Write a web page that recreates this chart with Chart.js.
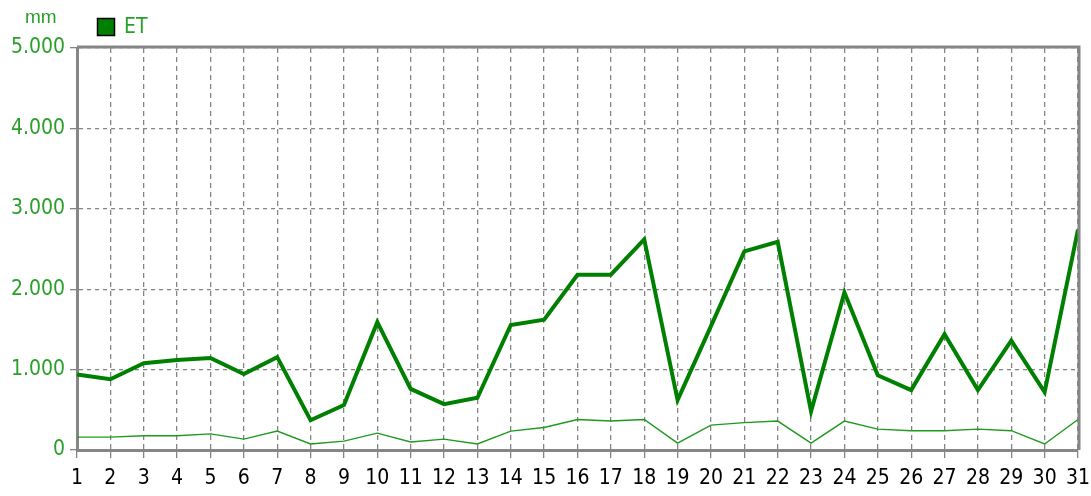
<!DOCTYPE html>
<html>
<head>
<meta charset="utf-8">
<script src="https://cdn.jsdelivr.net/npm/chart.js@4/dist/chart.umd.min.js"></script>
<style>
html,body{margin:0;padding:0;background:#fff;}
canvas{display:block;}
</style>
</head>
<body>
<canvas id="c" width="1091" height="496"></canvas>
<script>
const days = ['1','2','3','4','5','6','7','8','9','10','11','12','13','14','15','16','17','18','19','20','21','22','23','24','25','26','27','28','29','30','31'];
const etMain = [940,880,1080,1120,1145,945,1155,370,560,1590,760,570,650,1555,1620,2180,2180,2620,620,1540,2470,2590,480,1960,930,745,1440,745,1360,720,2740];
const etLow = [160,160,178,178,200,135,235,75,110,210,100,135,75,235,280,380,360,380,85,310,340,360,85,360,260,240,240,260,240,75,380];
const yTickValues = [0,1000,2000,3000,4000,5000];
const seriesLabel = 'ET';
const unitLabel = 'mm';

const FONT = "'Liberation Sans Narrow','DejaVu Sans Condensed','Liberation Sans',sans-serif";
const GREEN_TXT = '#2a9f2a';

const overlay = {
  id: 'overlay',
  afterDraw(chart) {
    const ctx = chart.ctx, a = chart.chartArea;
    ctx.save();
    ctx.setLineDash([]);
    ctx.strokeStyle = '#868686';
    ctx.lineWidth = 3;
    ctx.beginPath();
    ctx.moveTo(a.left, a.top - 1);
    ctx.lineTo(a.right + 1, a.top - 1);
    ctx.lineTo(a.right + 1, a.bottom);
    ctx.stroke();
    // unit label
    ctx.fillStyle = GREEN_TXT;
    ctx.font = "19px 'Liberation Sans',sans-serif";
    ctx.textBaseline = 'middle';
    ctx.textAlign = 'left';
    ctx.fillText(unitLabel, 25, 18);
    // legend
    ctx.fillStyle = '#008000';
    ctx.fillRect(97, 18, 18, 18);
    ctx.strokeStyle = '#000';
    ctx.lineWidth = 1.5;
    ctx.strokeRect(97.5, 18.5, 17, 17);
    ctx.fillStyle = GREEN_TXT;
    ctx.font = "21px " + FONT;
    ctx.fillText(seriesLabel, 124, 28);
    ctx.restore();
  }
};

new Chart(document.getElementById('c'), {
  type: 'line',
  data: {
    labels: days,
    datasets: [
      { label: seriesLabel, data: etMain, borderColor: '#008000', borderWidth: 4, pointRadius: 0, tension: 0, fill: false },
      { label: seriesLabel + ' low', data: etLow, borderColor: '#1f9a1f', borderWidth: 1.4, pointRadius: 0, tension: 0, fill: false }
    ]
  },
  options: {
    responsive: false,
    animation: false,
    devicePixelRatio: 1,
    layout: { padding: { left: 0, top: 48, right: 13, bottom: 0 } },
    plugins: { legend: { display: false }, tooltip: { enabled: false } },
    scales: {
      x: {
        type: 'category',
        offset: false,
        afterFit(s) { s.height = 46; s.paddingLeft = 0; s.paddingRight = 0; },
        border: { display: true, color: '#868686', width: 3, dash: [5, 4] },
        grid: { color: '#858585', lineWidth: 1.3, tickColor: '#858585', tickLength: 8, tickBorderDash: [], drawTicks: true },
        ticks: { color: '#000', font: { family: FONT, size: 21 }, padding: 8, maxRotation: 0, autoSkip: false }
      },
      y: {
        min: 0, max: 5000,
        afterFit(s) { s.width = 77; s.paddingTop = 0; s.paddingBottom = 0; },
        afterBuildTicks(s) { s.ticks = yTickValues.map(v => ({ value: v })); },
        border: { display: true, color: '#868686', width: 3, dash: [4, 4] },
        grid: { color: '#858585', lineWidth: 1.3, tickColor: '#858585', tickLength: 7, tickBorderDash: [], drawTicks: true },
        ticks: {
          color: GREEN_TXT, font: { family: FONT, size: 21 }, padding: 5,
          callback: v => v === 0 ? '0' : (v / 1000).toFixed(3)
        }
      }
    }
  },
  plugins: [overlay]
});
</script>
</body>
</html>
